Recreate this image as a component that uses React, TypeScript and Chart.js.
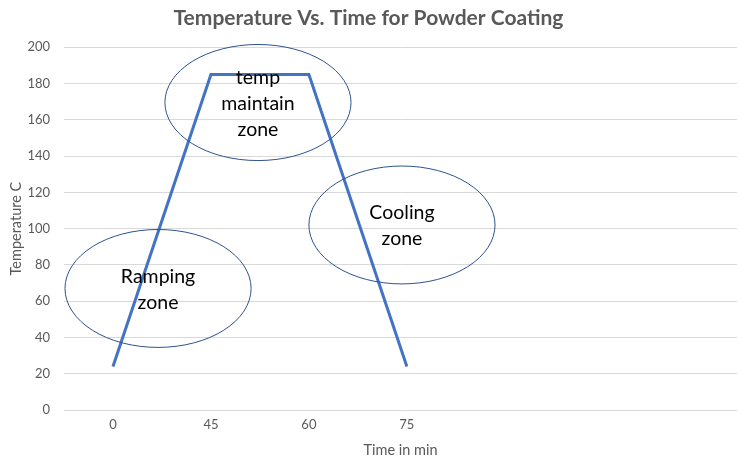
import React, { useEffect, useRef } from "react";
import { Chart, registerables } from "chart.js";

Chart.register(...registerables);

const categories = ["0", "45", "60", "75"];
const temperatures = [24, 185, 185, 24];
const yTicks = [0, 20, 40, 60, 80, 100, 120, 140, 160, 180, 200];

const zoneLabels = [["temp", "maintain", "zone"], ["Ramping", "zone"], ["Cooling", "zone"]];
const zoneCenterX = [1.48, 0.46, 2.95];
const zoneCenterY = [169.5, 67, 102];
const zoneRadiusX = [0.95, 0.95, 0.95];
const zoneRadiusY = [32, 32.5, 32.5];

const FONT = "Lato, 'Open Sans', sans-serif";

const zonePlugin = {
  id: "zones",
  afterDatasetsDraw(chart: any) {
    const { ctx, scales } = chart;
    const xs = scales.x;
    const ys = scales.y;
    ctx.save();
    zoneLabels.forEach((lines, i) => {
      const cx = xs.getPixelForValue(zoneCenterX[i]);
      const cy = ys.getPixelForValue(zoneCenterY[i]);
      const rx = Math.abs(xs.getPixelForValue(zoneCenterX[i] + zoneRadiusX[i]) - cx);
      const ry = Math.abs(ys.getPixelForValue(zoneCenterY[i] + zoneRadiusY[i]) - cy);
      ctx.beginPath();
      ctx.ellipse(cx, cy, rx, ry, 0, 0, Math.PI * 2);
      ctx.strokeStyle = "#2F528F";
      ctx.lineWidth = 1;
      ctx.stroke();
      ctx.fillStyle = "#000000";
      ctx.font = `19.5px ${FONT}`;
      ctx.textAlign = "center";
      ctx.textBaseline = "middle";
      const lh = 26;
      const start = cy + 1 - ((lines.length - 1) * lh) / 2;
      lines.forEach((t, j) => ctx.fillText(t, cx, start + j * lh));
    });
    ctx.restore();
  },
};

export default function App() {
  const ref = useRef<HTMLCanvasElement>(null);
  useEffect(() => {
    if (!ref.current) return;
    const chart = new Chart(ref.current, {
      type: "line",
      data: {
        datasets: [
          {
            data: temperatures.map((v, i) => ({ x: i, y: v })),
            borderColor: "#4472C4",
            borderWidth: 3,
            pointRadius: 0,
            tension: 0,
            fill: false,
          },
        ],
      },
      options: {
        animation: false,
        responsive: false,
        maintainAspectRatio: false,
        layout: { padding: { left: 0, right: 3, top: 0, bottom: 0 } },
        plugins: {
          legend: { display: false },
          tooltip: { enabled: false },
          title: {
            display: true,
            text: "Temperature Vs. Time for Powder Coating",
            color: "#595959",
            font: { family: FONT, size: 21, weight: "bold" },
            padding: { top: 6, bottom: 16 },
          },
        },
        scales: {
          x: {
            type: "linear",
            min: -0.5,
            max: 6.37,
            afterBuildTicks: (scale: any) => {
              scale.ticks = categories.map((_, i) => ({ value: i }));
            },
            afterFit: (scale: any) => {
              scale.height = 49;
            },
            ticks: {
              callback: (v: any) => categories[v] ?? "",
              color: "#595959",
              font: { family: FONT, size: 13 },
              padding: 7,
              maxRotation: 0,
            },
            grid: { display: false, drawTicks: false },
            border: { display: false },
            title: {
              display: true,
              text: "Time in min",
              color: "#595959",
              font: { family: FONT, size: 14.5 },
              padding: { top: 0, bottom: 0 },
            },
          },
          y: {
            min: 0,
            max: 200,
            afterBuildTicks: (scale: any) => {
              scale.ticks = yTicks.map((v) => ({ value: v }));
            },
            afterFit: (scale: any) => {
              scale.width = 64;
            },
            ticks: {
              color: "#595959",
              font: { family: FONT, size: 13 },
              padding: 14,
            },
            grid: { color: "#D9D9D9", lineWidth: 1, drawTicks: false },
            border: { display: false },
            title: {
              display: true,
              text: "Temperature C",
              color: "#595959",
              font: { family: FONT, size: 14.5 },
              padding: { top: 8, bottom: 0 },
            },
          },
        },
      },
      plugins: [zonePlugin],
    });
    return () => chart.destroy();
  }, []);
  return (
    <div style={{ position: "fixed", left: 0, top: 0, width: 740, height: 459, background: "#fff" }}>
      <canvas ref={ref} width={740} height={459} style={{ width: 740, height: 459, display: "block" }} />
    </div>
  );
}
